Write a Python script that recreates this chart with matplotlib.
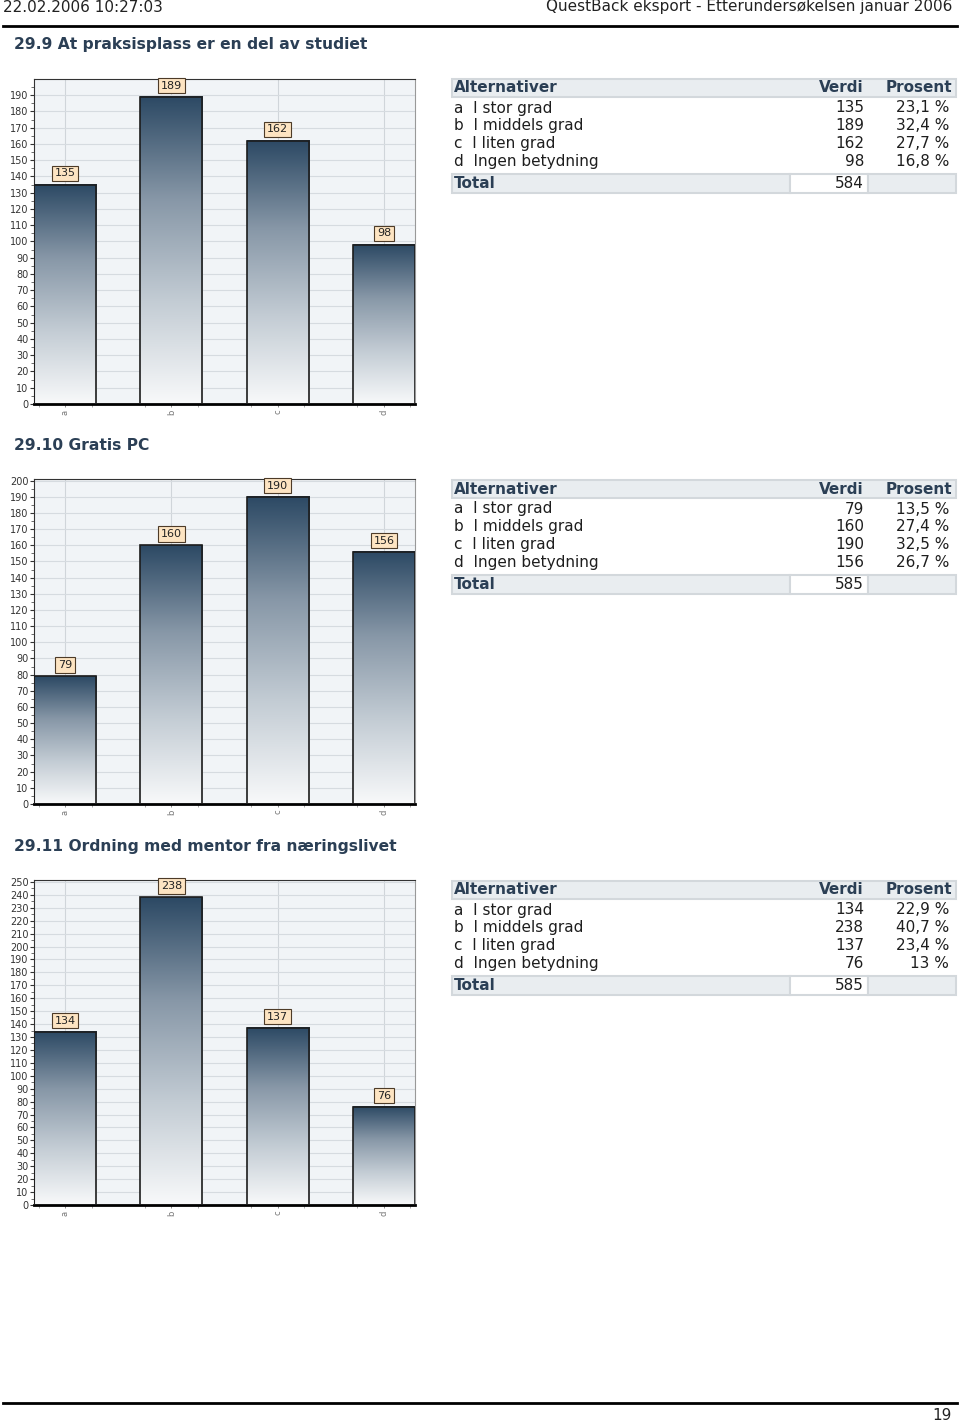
import numpy as np
import matplotlib
matplotlib.use("Agg")
import matplotlib.pyplot as plt
from matplotlib.colors import LinearSegmentedColormap
from matplotlib.patches import Rectangle

plt.rcParams['font.family'] = ['DejaVu Sans']

# --- data ---
header_left = "22.02.2006 10:27:03"
header_right = "QuestBack eksport - Etterundersøkelsen januar 2006"
page_no = "19"

titles = ["29.9 At praksisplass er en del av studiet",
          "29.10 Gratis PC",
          "29.11 Ordning med mentor fra næringslivet"]
letters = ["a", "b", "c", "d"]
alternatives = ["I stor grad", "I middels grad", "I liten grad", "Ingen betydning"]

values_29_9 = [135, 189, 162, 98]
values_29_10 = [79, 160, 190, 156]
values_29_11 = [134, 238, 137, 76]
percent_29_9 = ["23,1 %", "32,4 %", "27,7 %", "16,8 %"]
percent_29_10 = ["13,5 %", "27,4 %", "32,5 %", "26,7 %"]
percent_29_11 = ["22,9 %", "40,7 %", "23,4 %", "13 %"]
totals = [584, 585, 585]
ytick_max = [190, 200, 250]

all_values = [values_29_9, values_29_10, values_29_11]
all_percent = [percent_29_9, percent_29_10, percent_29_11]

# --- layout (pixels) ---
W, H = 960, 1422
block_top = [79, 480, 881]      # table header top
ax_top = [79, 479, 880]
ax_bottom = [404, 804, 1205]
ymax = [200, 201, 251.5]
title_y = [45, 446, 847]

TITLE_C = '#2b3f55'
TEXT_C = '#1e1e1e'
FS = 11

fig = plt.figure(figsize=(W / 100, H / 100), dpi=100)
fig.patch.set_facecolor('white')

page = fig.add_axes([0, 0, 1, 1], zorder=0)
page.set_xlim(0, W)
page.set_ylim(H, 0)
page.axis('off')

# header / footer
page.text(3, 7, header_left, fontsize=11, color='#222222', va='center', ha='left')
page.text(952, 7, header_right, fontsize=11, color='#222222', va='center', ha='right')
page.plot([3, 957], [26, 26], color='black', lw=2)
page.plot([3, 957], [1403, 1403], color='black', lw=2)
page.text(952, 1415, page_no, fontsize=11, color='#222222', va='center', ha='right')

cmap = LinearSegmentedColormap.from_list('bar', ['#f8f9fa', '#c3ccd4', '#8797a7', '#2c4964'])
grad = np.linspace(0, 1, 256).reshape(-1, 1)
bw = 0.585
x = np.arange(len(letters))

for k in range(3):
    vals = all_values[k]
    top = block_top[k]

    page.text(14, title_y[k], titles[k], fontsize=11.2, fontweight='bold',
              color=TITLE_C, va='center', ha='left')

    # --- table ---
    page.add_patch(Rectangle((452, top), 504, 18, fc='#e9edf0', ec='#d3d8dc', lw=1.5))
    page.text(454, top + 9, "Alternativer", fontsize=FS, fontweight='bold',
              color=TITLE_C, va='center', ha='left')
    page.text(864, top + 9, "Verdi", fontsize=FS, fontweight='bold',
              color=TITLE_C, va='center', ha='right')
    page.text(952, top + 9, "Prosent", fontsize=FS, fontweight='bold',
              color=TITLE_C, va='center', ha='right')
    for i in range(len(letters)):
        ry = top + 29 + i * 17.8
        page.text(454, ry, letters[i] + "  " + alternatives[i], fontsize=FS,
                  color=TEXT_C, va='center', ha='left')
        page.text(864, ry, str(vals[i]), fontsize=FS, color=TEXT_C,
                  va='center', ha='right')
        page.text(949, ry, all_percent[k][i], fontsize=FS, color=TEXT_C,
                  va='center', ha='right')
    ty = top + 95
    page.add_patch(Rectangle((452, ty), 338, 19, fc='#e9edf0', ec='#d3d8dc', lw=1.5))
    page.add_patch(Rectangle((790, ty), 78, 19, fc='white', ec='#d3d8dc', lw=1.5))
    page.add_patch(Rectangle((868, ty), 88, 19, fc='#e9edf0', ec='#d3d8dc', lw=1.5))
    page.text(454, ty + 9.5, "Total", fontsize=FS, fontweight='bold',
              color=TITLE_C, va='center', ha='left')
    page.text(864, ty + 9.5, str(totals[k]), fontsize=FS, color=TEXT_C,
              va='center', ha='right')

    # --- chart ---
    x0, x1 = 34, 415
    y0, y1 = ax_top[k], ax_bottom[k]
    ax = fig.add_axes([x0 / W, 1 - y1 / H, (x1 - x0) / W, (y1 - y0) / H], zorder=2)
    ax.set_facecolor('#f1f4f7')
    for i, v in enumerate(vals):
        ax.imshow(grad, extent=[i - bw / 2, i + bw / 2, 0, v], aspect='auto',
                  cmap=cmap, origin='lower', zorder=2, interpolation='bilinear')
    ax.bar(x, vals, width=bw, fill=False, edgecolor='#1c1c1c', linewidth=1.2, zorder=3)
    for i, v in enumerate(vals):
        ax.annotate(str(v), (i, v), xytext=(0, 4.5), textcoords='offset points',
                    ha='center', va='bottom', fontsize=8, color='#222222',
                    bbox=dict(boxstyle='square,pad=0.25', fc='#fde4c2', ec='#4d3b28', lw=0.8),
                    zorder=4)
    ax.set_yticks(np.arange(0, ytick_max[k] + 1, 10))
    ax.set_yticks(np.arange(5, ymax[k], 5), minor=True)
    ax.set_xticks(x, letters, rotation=90, fontsize=6, color='#555555')
    ax.set_xticks(np.arange(-0.25, len(letters) - 0.5, 0.5), minor=True)
    ax.set_xlim(-bw / 2, len(letters) - 1 + bw / 2)
    ax.set_ylim(0, ymax[k])
    ax.tick_params(axis='y', labelsize=7, colors='#333333', length=3, width=0.8, pad=1)
    ax.tick_params(axis='y', which='minor', length=2, width=0.6, colors='#555555')
    ax.tick_params(axis='x', length=2, width=0.6, colors='#777777', pad=2)
    ax.tick_params(axis='x', which='minor', length=2, width=0.6, colors='#999999')
    ax.grid(axis='y', which='major', color='#d6dbe0', lw=0.8)
    ax.grid(axis='x', which='major', color='#d0d5da', lw=0.8)
    ax.set_axisbelow(True)
    ax.spines['left'].set_color('#333333')
    ax.spines['top'].set_color('#333333')
    ax.spines['right'].set_color('#999999')
    ax.spines['bottom'].set_color('black')
    ax.spines['bottom'].set_linewidth(2)

fig.savefig('out.png', dpi=100, facecolor='white')
